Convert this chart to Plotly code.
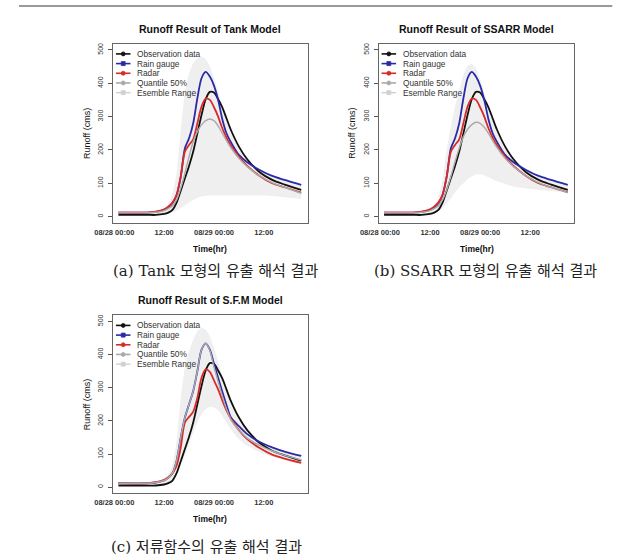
import plotly.graph_objects as go

W, H = 621, 559

# ---------------- data (hours since 08/28 00:00) ----------------
hours = [1, 8, 10, 12, 13, 14, 15, 16, 17, 18, 19, 20, 21, 22, 23, 24, 25, 26, 27, 28, 30, 32, 35, 38, 41, 45]

x_tick_vals = [0, 12, 24, 36]
x_tick_text = ["08/28 00:00", "12:00", "08/29 00:00", "12:00"]
y_tick_vals = [0, 100, 200, 300, 400, 500]

observation = [5, 5, 5, 8, 12, 20, 42, 78, 115, 152, 195, 250, 305, 352, 374, 372, 352, 328, 295, 262, 210, 172, 133, 110, 96, 80]

# Tank model
tank_rain = [12, 12, 14, 20, 28, 40, 65, 120, 205, 235, 280, 355, 415, 434, 420, 393, 350, 292, 250, 225, 185, 163, 140, 122, 110, 95]
tank_radar = [12, 12, 15, 22, 30, 42, 65, 120, 195, 215, 232, 280, 330, 354, 350, 328, 300, 265, 237, 215, 180, 152, 122, 100, 88, 72]
tank_q50 = [12, 12, 13, 18, 24, 32, 50, 85, 130, 180, 225, 255, 275, 288, 293, 288, 272, 250, 228, 208, 175, 150, 122, 102, 88, 70]
tank_ens_hi = [15, 15, 18, 25, 40, 70, 130, 260, 370, 430, 460, 475, 480, 472, 450, 415, 375, 330, 290, 255, 205, 172, 142, 123, 110, 95]
tank_ens_lo = [3, 3, 4, 6, 8, 12, 18, 25, 33, 42, 50, 56, 60, 62, 63, 63, 63, 63, 63, 63, 63, 63, 63, 62, 58, 53]

# SSARR model
ssarr_rain = [12, 12, 14, 20, 28, 40, 65, 120, 205, 235, 280, 355, 415, 434, 420, 393, 350, 292, 250, 225, 185, 163, 140, 122, 110, 95]
ssarr_radar = [12, 12, 15, 22, 30, 42, 65, 120, 195, 215, 232, 280, 330, 354, 350, 328, 300, 265, 237, 215, 180, 152, 122, 100, 88, 73]
ssarr_q50 = [12, 12, 13, 18, 24, 32, 50, 80, 120, 165, 205, 240, 262, 276, 283, 280, 268, 250, 228, 208, 175, 150, 122, 102, 88, 72]
ssarr_ens_hi = [15, 15, 18, 25, 35, 60, 110, 200, 270, 330, 380, 425, 452, 458, 445, 412, 372, 328, 288, 255, 205, 172, 142, 123, 110, 95]
ssarr_ens_lo = [3, 3, 4, 7, 10, 16, 25, 40, 55, 72, 88, 100, 112, 120, 126, 127, 124, 118, 112, 106, 98, 90, 84, 80, 77, 73]

# S.F.M (storage function) model
sfm_rain = [12, 12, 14, 20, 28, 42, 80, 150, 210, 250, 290, 350, 415, 434, 415, 372, 330, 288, 248, 212, 184, 160, 136, 120, 107, 94]
sfm_radar = [12, 12, 15, 22, 30, 42, 65, 120, 195, 212, 228, 270, 330, 355, 348, 322, 295, 262, 232, 208, 172, 145, 118, 98, 86, 73]
sfm_q50 = [12, 12, 14, 20, 28, 42, 80, 150, 210, 250, 290, 350, 415, 434, 412, 362, 318, 275, 236, 205, 172, 148, 126, 109, 96, 82]
sfm_ens_hi = [15, 15, 18, 25, 40, 70, 140, 270, 360, 410, 445, 470, 480, 475, 455, 420, 380, 335, 290, 255, 200, 168, 140, 121, 108, 94]
sfm_ens_lo = [3, 3, 4, 7, 12, 22, 40, 65, 95, 130, 165, 195, 220, 235, 242, 240, 232, 215, 195, 175, 145, 125, 105, 92, 82, 72]

legend_labels = ["Observation data", "Rain gauge", "Radar", "Quantile 50%", "Esemble Range"]

# ---------------- style ----------------
C_OBS = "#111111"
C_RAIN = "#2a2aa8"
C_RADAR = "#d92a2a"
C_Q50 = "#aaaaaa"
C_ENS_FILL = "#efefef"
C_ENS_LEG = "#d0d0d0"
SANS = "Liberation Sans, Arial, sans-serif"
CAP_FONT = "DejaVu Serif, Noto Sans CJK KR, serif"

panels = [
    dict(title="Runoff Result of Tank Model", caption="(a) Tank 모형의 유출 해석 결과",
         L=97, R=298, T=43, B=222, cap_x=203, cap_y=270,
         rain=tank_rain, radar=tank_radar, q50=tank_q50, hi=tank_ens_hi, lo=tank_ens_lo),
    dict(title="Runoff Result of SSARR Model", caption="(b) SSARR 모형의 유출 해석 결과",
         L=371, R=573, T=43, B=222, cap_x=481, cap_y=270,
         rain=ssarr_rain, radar=ssarr_radar, q50=ssarr_q50, hi=ssarr_ens_hi, lo=ssarr_ens_lo),
    dict(title="Runoff Result of S.F.M Model", caption="(c) 저류함수의 유출 해석 결과",
         L=97, R=298, T=315, B=493, cap_x=193, cap_y=547,
         rain=sfm_rain, radar=sfm_radar, q50=sfm_q50, hi=sfm_ens_hi, lo=sfm_ens_lo),
]


def px(x):
    return x / W


def py(y):
    return 1 - y / H


fig = go.Figure()
shapes = []
annotations = []
layout_axes = {}

# top rule
shapes.append(dict(type="line", xref="paper", yref="paper", x0=px(0), x1=px(612), y0=py(5), y1=py(5),
                   line=dict(color="#9a9a9a", width=2)))

for i, p in enumerate(panels):
    n = "" if i == 0 else str(i + 1)
    xa, ya = "x" + n, "y" + n
    line_kw = dict(shape="spline", smoothing=0.8)
    # ensemble band
    fig.add_trace(go.Scatter(x=hours, y=p["hi"], xaxis=xa, yaxis=ya, mode="lines",
                             line=dict(width=0, color=C_ENS_FILL, **line_kw), showlegend=False, hoverinfo="skip"))
    fig.add_trace(go.Scatter(x=hours, y=p["lo"], xaxis=xa, yaxis=ya, mode="lines", fill="tonexty",
                             fillcolor=C_ENS_FILL, line=dict(width=0, color=C_ENS_FILL, **line_kw),
                             showlegend=False, hoverinfo="skip"))
    fig.add_trace(go.Scatter(x=hours, y=observation, xaxis=xa, yaxis=ya, mode="lines",
                             line=dict(color=C_OBS, width=1.8, **line_kw), showlegend=False))
    fig.add_trace(go.Scatter(x=hours, y=p["rain"], xaxis=xa, yaxis=ya, mode="lines",
                             line=dict(color=C_RAIN, width=1.8, **line_kw), showlegend=False))
    fig.add_trace(go.Scatter(x=hours, y=p["radar"], xaxis=xa, yaxis=ya, mode="lines",
                             line=dict(color=C_RADAR, width=1.8, **line_kw), showlegend=False))
    fig.add_trace(go.Scatter(x=hours, y=p["q50"], xaxis=xa, yaxis=ya, mode="lines",
                             line=dict(color=C_Q50, width=1.4, **line_kw), showlegend=False))

    layout_axes["xaxis" + n] = dict(
        domain=[px(p["L"]), px(p["R"])], anchor=ya, range=[-0.3, 46.6],
        tickvals=x_tick_vals, ticktext=x_tick_text, ticks="", showgrid=False, zeroline=False,
        tickfont=dict(family=SANS, size=7.5, color="#333", weight="bold"),
        showline=True, mirror=True, linecolor="#666", linewidth=1, ticklabelstandoff=2)
    layout_axes["yaxis" + n] = dict(
        domain=[py(p["B"]), py(p["T"])], anchor=xa, range=[-18, 518],
        tickvals=y_tick_vals, tickangle=-90, ticks="outside", ticklen=4, tickcolor="#555",
        showgrid=False, zeroline=False, tickfont=dict(family=SANS, size=7, color="#333"),
        showline=True, mirror=True, linecolor="#666", linewidth=1, ticklabelstandoff=2)

    cx = (p["L"] + p["R"]) / 2
    cy = (p["T"] + p["B"]) / 2
    annotations.append(dict(x=px(cx), y=py(p["T"] - 15), xref="paper", yref="paper", text=p["title"],
                            showarrow=False, xanchor="center", yanchor="middle",
                            font=dict(family=SANS, size=10.5, color="#111", weight="bold")))
    annotations.append(dict(x=px(p["L"] - 27), y=py(cy), xref="paper", yref="paper", text="Runoff (cms)",
                            showarrow=False, textangle=-90, xanchor="center", yanchor="middle",
                            font=dict(family=SANS, size=9, color="#111")))
    annotations.append(dict(x=px(cx), y=py(p["B"] + 26), xref="paper", yref="paper", text="Time(hr)",
                            showarrow=False, xanchor="center", yanchor="middle",
                            font=dict(family=SANS, size=8.5, color="#111", weight="bold")))
    annotations.append(dict(x=px(p["cap_x"]), y=py(p["cap_y"]), xref="paper", yref="paper", text=p["caption"],
                            showarrow=False, xanchor="center", yanchor="middle",
                            font=dict(family=CAP_FONT, size=15, color="#222")))

    # legend (R style, no box)
    offs = [10, 19.7, 29.4, 39.1, 48.8]
    cols = [C_OBS, C_RAIN, C_RADAR, C_Q50, C_ENS_LEG]
    syms = ["circle", "rect", "circle", "circle", "rect"]
    for lab, off, col, sym in zip(legend_labels, offs, cols, syms):
        yy = p["T"] + off
        x0, x1 = p["L"] + 3, p["L"] + 18
        shapes.append(dict(type="line", xref="paper", yref="paper", x0=px(x0), x1=px(x1), y0=py(yy), y1=py(yy),
                           line=dict(color=col, width=1.6 if col != C_ENS_LEG else 1.4)))
        mx = (x0 + x1) / 2
        r = 2.0
        shapes.append(dict(type=sym, xref="paper", yref="paper", x0=px(mx - r), x1=px(mx + r),
                           y0=py(yy - r), y1=py(yy + r), fillcolor=col, line=dict(color=col, width=0.8)))
        annotations.append(dict(x=px(p["L"] + 23), y=py(yy), xref="paper", yref="paper", text=lab,
                                showarrow=False, xanchor="left", yanchor="middle",
                                font=dict(family=SANS, size=8.3, color="#333")))

fig.update_layout(
    width=W, height=H, margin=dict(l=0, r=0, t=0, b=0),
    paper_bgcolor="white", plot_bgcolor="white", showlegend=False,
    shapes=shapes, annotations=annotations, **layout_axes)

fig.write_html("out.html", config={"displayModeBar": False},
               post_script="document.body.style.margin='0';")
